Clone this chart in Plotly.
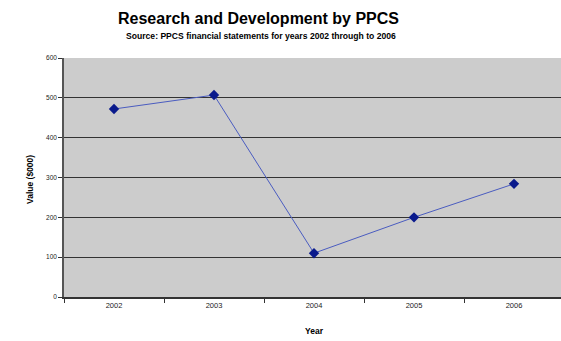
import plotly.graph_objects as go

years = ["2002", "2003", "2004", "2005", "2006"]
values = [472, 507, 110, 200, 284]
y_ticks = [0, 100, 200, 300, 400, 500, 600]

W, H = 561, 341
L, R, T, B = 64, 0, 58, 44  # plot area 64..561, 58..297

fig = go.Figure()
fig.add_trace(go.Scatter(
    x=years, y=values, mode="lines+markers",
    line=dict(color="#4a5cc0", width=1),
    marker=dict(symbol="diamond", size=8, color="#0a1a8c"),
    cliponaxis=False,
))

pw = W - L - R
ph = H - T - B


def px(x):
    return (x - L) / pw


def py(y):
    return (H - B - y) / ph


fig.update_layout(
    width=W, height=H,
    margin=dict(l=L, r=R, t=T, b=B, pad=0),
    paper_bgcolor="white", plot_bgcolor="#cccccc",
    font=dict(family="Liberation Sans, Arial, sans-serif", color="black", size=7),
    showlegend=False,
    annotations=[
        dict(text="<b>Research and Development by PPCS</b>", x=px(258), y=py(18),
             xref="paper", yref="paper", showarrow=False, font=dict(size=16), xanchor="center", yanchor="middle"),
        dict(text="<b>Source: PPCS financial statements for years 2002 through to 2006</b>", x=px(261),
             y=py(36), xref="paper", yref="paper", showarrow=False, font=dict(size=8.6),
             xanchor="center", yanchor="middle"),
        dict(text="<b>Value ($000)</b>", x=px(30), y=py(180), xref="paper", yref="paper",
             showarrow=False, textangle=-90, font=dict(size=8.5), xanchor="center", yanchor="middle"),
        dict(text="<b>Year</b>", x=px(314), y=py(331), xref="paper", yref="paper",
             showarrow=False, font=dict(size=8.5), xanchor="center", yanchor="middle"),
    ],
    xaxis=dict(
        type="category", range=[-0.5, 4.47],
        showgrid=False, showline=True, linecolor="#333333", linewidth=2,
        ticks="outside", tickson="boundaries", ticklen=4, tickcolor="#333333",
        tickfont=dict(size=7.5, color="#222222"),
        zeroline=False,
    ),
    yaxis=dict(
        range=[0, 600], tickvals=y_ticks,
        showgrid=True, gridcolor="#333333", gridwidth=1.2,
        showline=True, linecolor="#555555", linewidth=1.5,
        ticks="outside", ticklen=4, tickcolor="#333333",
        tickfont=dict(size=6.5, color="#222222"),
        zeroline=False,
    ),
)

fig.write_html(
    "out.html",
    config={"displayModeBar": False},
    post_script="document.documentElement.style.overflow='hidden';document.body.style.margin='0';",
)
